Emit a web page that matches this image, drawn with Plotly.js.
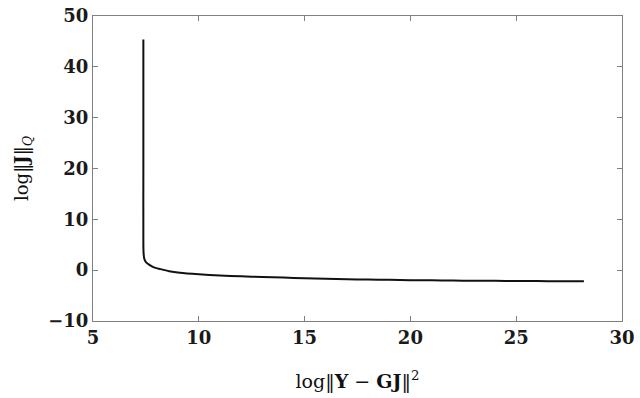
<!DOCTYPE html>
<html>
<head>
<meta charset="utf-8">
<script src="https://cdn.plot.ly/plotly-3.0.1.min.js"></script>
<style>html,body{margin:0;padding:0;background:#fff;}#chart{width:640px;height:398px;}</style>
</head>
<body>
<div id="chart"></div>
<script>
var residual = [7.38, 7.38, 7.38, 7.39, 7.42, 7.5, 7.65, 7.85, 8.2, 8.6, 9.1, 10, 11, 12, 13, 14, 15, 16, 17, 18, 19, 20, 21, 22, 23, 24, 25, 26, 27, 28.2];
var normJ = [45.4, 20, 5, 3.4, 2.3, 1.6, 1.1, 0.6, 0.2, -0.2, -0.5, -0.8, -1.05, -1.2, -1.35, -1.45, -1.6, -1.7, -1.8, -1.85, -1.9, -2.0, -2.0, -2.05, -2.1, -2.1, -2.15, -2.15, -2.2, -2.2];
var xTicks = [5, 10, 15, 20, 25, 30];
var yTicks = [-10, 0, 10, 20, 30, 40, 50];
var yTickText = ['\u221210', '0', '10', '20', '30', '40', '50'];

var fontFam = 'DejaVu Serif, serif';
var trace = {
  x: residual, y: normJ, mode: 'lines', type: 'scatter',
  line: {color: '#111111', width: 2, shape: 'spline', smoothing: 0.6},
  hoverinfo: 'none'
};
var axisCommon = {
  showgrid: false, zeroline: false, showline: true, mirror: 'ticks',
  linecolor: '#808080', linewidth: 1, ticks: 'inside', ticklen: 5,
  tickcolor: '#808080', tickwidth: 1,
  tickfont: {family: fontFam, size: 18, color: '#1a1a1a', weight: 'bold'}
};
var layout = {
  width: 640, height: 398,
  margin: {l: 93, r: 18, t: 16, b: 77},
  paper_bgcolor: '#fff', plot_bgcolor: '#fff',
  showlegend: false,
  xaxis: Object.assign({}, axisCommon, {
    range: [5, 30], tickvals: xTicks, ticktext: xTicks.map(String),
    title: {text: 'log\u2016<b>Y</b> \u2212 <b>GJ</b>\u2016<sup>2</sup>', font: {family: fontFam, size: 19, color: '#111'}, standoff: 28}
  }),
  yaxis: Object.assign({}, axisCommon, {
    range: [-10, 50], tickvals: yTicks, ticktext: yTickText,
    title: {text: 'log\u2016<b>J</b>\u2016<sub><i>Q</i></sub>', font: {family: fontFam, size: 18, color: '#111'}, standoff: 14}
  })
};
Plotly.newPlot('chart', [trace], layout, {staticPlot: true, displayModeBar: false});
</script>
</body>
</html>
